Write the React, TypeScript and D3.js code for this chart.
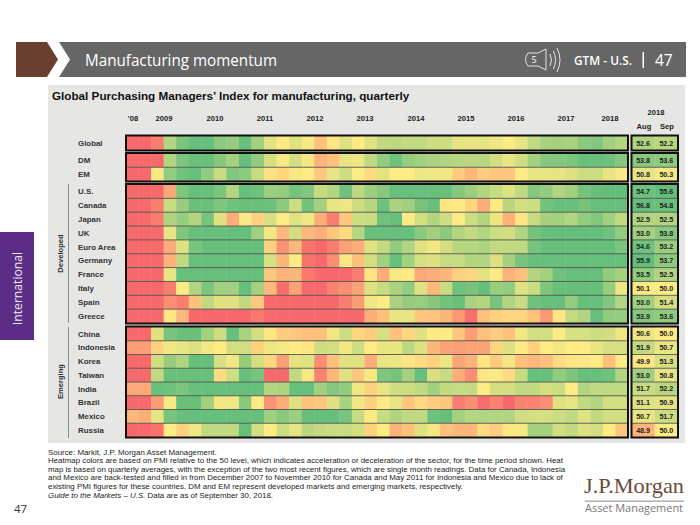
import React from "react";
import * as d3 from "d3";

const yearLabels = ["'08","2009","2010","2011","2012","2013","2014","2015","2016","2017","2018"];
const yearX = [133,164,215,265,315,365,416,466,516,566,610];

const Global = [47.5,47.5,47.9,52.5,54.2,54.9,54.9,53.7,53.4,54.8,53,50.9,50,51,50.2,49.2,49.9,51.1,50,51,52,52.1,51.9,52,51.6,51.6,50.8,50.7,50.8,50.5,50.1,50.8,52,52.8,52.9,52.8,53.8,54,53,52.4];
const DM = [47.5,47.5,47.5,52.5,54.2,54.8,54.8,53.9,52.9,54.9,53.5,51.3,50.2,51.4,50.3,48.9,49.2,50.8,50.5,52,53.5,54.6,53.4,53,52.7,52.5,52.3,52.2,52.3,51.4,50.7,51.5,53,53.9,54,54.2,54.8,54.8,54.6,53.9];
const EM = [47.5,47.5,50.3,53.5,54.6,54.9,53.5,51.8,54,53.6,51.8,49.8,49.6,50.3,50,49.3,50.8,51.6,50,49.7,50.9,50,50,50.6,50.5,50.4,49.4,49,49.4,49.3,49.3,50,50.7,50.8,50.8,51.1,51.6,51.6,50.7,50.2];
const US = [47.5,47.5,47.5,48.7,54.1,54.9,54.9,54.2,52.4,54.9,54.6,53.1,53.4,54.4,54,51.8,52.5,54.6,52.1,53.2,53.8,54.9,54.9,54.9,54.9,54.8,53.9,53.2,52.5,51.8,51.1,52,53.9,53.5,52.5,53,54.4,54.9,55,55];
const Canada = [47.5,47.5,47.9,51.8,53.3,54.8,54.8,54.1,54.6,54.8,54.8,54.7,53.7,51.6,54.5,52.9,50.7,50.5,51.5,52.3,54.6,52.7,53,54.4,54.9,49.9,50,49.6,48.8,50,52.2,51.4,51.6,54.5,54.9,54.9,54.4,54.9,54.9,54.9];
const Japan = [47.5,47.5,47.9,52.6,53.3,52.4,54.3,51,48.8,50.2,49.5,51.3,50,51,50.5,48.8,47.9,49.3,51.6,51.8,54.6,54.9,50,51.4,52.4,51.6,50,51.6,52.4,50.6,48.9,49.9,51.8,52.9,52.9,52.5,53.5,54,53,52];
const UK = [47.5,47.5,47.5,50.8,54.1,54.9,54.9,54.9,54.9,54.9,53,50.4,49,51.4,49,48.8,49.3,49.7,52.3,54.9,54.9,54.9,54.9,53.7,52.9,53.7,52.4,51.9,52.5,51.6,51.4,52.5,54.5,54.9,55,55,55,55,54.6,53.5];
const EuroArea = [47.5,47.5,47.5,48.8,51.1,54.3,54.9,54.9,54.9,54.9,54.9,49.5,48.3,49,47.7,47.4,47.9,48.6,48.8,51,51.9,53.5,52.5,51,50.4,51.4,52.3,52.3,52.6,51.9,52,52,54.4,54.9,54.9,54.9,54.9,54.9,54.9,54.2];
const Germany = [47.5,47.5,47.5,48.9,52,54.9,54.9,54.9,54.9,54.9,54.9,51.3,49,50,47.7,47.5,48.2,49.9,49.2,51.4,53,54.9,53,51.3,51.1,51.8,51.8,52.4,52.5,51.1,52.9,54.3,54.9,54.9,54.9,54.9,54.9,54.9,54.9,54.9];
const France = [47.5,47.5,47.5,50.7,54.9,54.9,54.9,54.9,54.9,54.9,54.9,49.3,48.9,49,47.8,47.4,47.4,47.4,47.9,49.9,48.8,50.3,50,48.7,48.8,49,49.5,49.6,50.9,50,48.9,49.2,52.4,53,54.6,54.9,54.9,54.9,53.5,52.9];
const Italy = [47.5,47.5,47.5,47.9,50,52.5,54.2,53,53,54.9,52.9,49,47.6,48.6,47.5,47.5,48,48.2,48.6,51,51.8,52.7,53.5,51,49,51.8,54.6,54.3,54.9,53.3,53.5,51,51.8,54.1,54.9,54.9,54.9,54.9,53.3,50.5];
const Spain = [47.5,47.5,47.5,48.2,47.9,49.2,52,51,51,52,49.3,47.5,47.5,47.5,47.5,47.5,47.5,47.9,48.5,50.4,50,52.7,53.4,53.3,53.9,54.5,54.8,52.7,52.4,54.3,52.5,51.7,54.6,54.9,54.9,53.5,54.9,54.9,54,52.5];
const Greece = [47.5,47.5,47.5,49.9,49,47.5,47.5,47.5,47.5,47.5,47.8,47.5,47.5,47.5,47.5,47.5,47.5,47.5,47.5,48.8,49.2,50.7,50.7,49.3,49.3,49,48.4,47.6,49.2,49.5,49.6,49.6,49.2,48.4,49.9,51.9,52.5,54.9,53.5,53.5];
const China = [47.5,47.5,51,54.3,54.8,54.8,52.9,51.6,54.9,52.7,51.4,49.9,49.4,49.3,49.2,49.2,50.4,51.6,49.6,49.4,51.3,49.2,49.6,51,50,50,49.3,48.5,49.2,49.4,49.2,50.4,51.4,51.4,50,51.3,51.3,51.6,51.4,50.6];
const Indonesia = [48.5,48.5,49.5,50.4,50.8,51.1,50.4,50,51.4,51.4,49.5,50.6,50.3,50,49.9,51.5,51.4,50.4,51.6,50,50.7,50.7,52.1,51.1,49,48.6,48.5,48.6,48.6,49.6,51.1,50,49.5,50,50.4,50,50,50.7,51.3,51.3];
const Korea = [47.5,47.5,51.6,53.3,52.6,54.9,54.9,51.3,50.4,53.4,51.4,49.6,48.5,50.9,51,48.2,49.2,51,51,48.8,50.7,50.6,49.9,49.7,49.5,50.6,48.7,48.9,49.9,49.4,50.4,49.2,49,49.2,49.7,49.9,50.2,50,49.2,50];
const Taiwan = [47.5,47.5,52,54.8,54.8,54.8,54.8,49.7,51.6,54.9,54.3,47.5,47.4,52,50.3,48,49,51,49.3,50.3,54.1,54.4,52.9,54.9,51.2,51.8,48.8,48.2,49.9,50.1,49.7,51.8,54.9,54.9,53.5,54.1,54.9,54.9,54.6,52.5];
const India = [48.7,48.7,54.9,54.6,54.2,54.9,54.9,54.9,54.9,54.9,54.9,52.4,52.6,54.9,54.9,53,53.9,53.5,50.5,49.5,50.7,51.5,51.6,52,53,52,51.8,51.9,50,51.4,51.4,52,52,51.4,51.6,50,52.5,52,52,52];
const Brazil = [47.5,47.5,48.5,50.3,54.8,54.8,53,50.5,50.5,53.8,50,48.3,48.8,51.1,49.2,49.3,51,52.7,50.4,49.5,50,50.7,49.3,49.7,49.4,49.3,47.9,48.2,47.6,48,47.5,48,48,48.2,51,50.8,52,52.4,51.4,51.4];
const Mexico = [49,48.8,50.8,54.3,54.9,54.9,54.9,54.9,54.9,54.9,54.9,53,53.8,53.1,54.9,54.9,54.9,54.3,51.8,50,51.8,52.6,52,52,54.6,54.9,52.9,52.3,52.5,52.5,52.4,51.5,51.3,51.3,51.6,52,51,52,51.4,51.4];
const Russia = [47.5,47.5,47.7,50,49.5,50.5,52,52,52,54.9,51.4,50,51.6,50.8,52.2,51.9,51.7,51.7,51.4,49.5,50,48.9,49.2,51,50.4,49.2,49,49,49.7,49.4,49.9,50.3,52.9,52.9,51.4,52,51.1,51.4,50,49.3];

const rowNames = ["Global","DM","EM","U.S.","Canada","Japan","UK","Euro Area","Germany","France","Italy","Spain","Greece","China","Indonesia","Korea","Taiwan","India","Brazil","Mexico","Russia"];
const rowValues = [Global,DM,EM,US,Canada,Japan,UK,EuroArea,Germany,France,Italy,Spain,Greece,China,Indonesia,Korea,Taiwan,India,Brazil,Mexico,Russia];
const aug = [52.6,53.8,50.8,54.7,56.8,52.5,53.0,54.6,55.9,53.5,50.1,53.0,53.9,50.6,51.9,49.9,53.0,51.7,51.1,50.7,48.9];
const sep = [52.2,53.6,50.3,55.6,54.8,52.5,53.8,53.2,53.7,52.5,50.0,51.4,53.6,50.0,50.7,51.3,50.8,52.2,50.9,51.7,50.0];

const footnotes = [
  "Source: Markit, J.P. Morgan Asset Management.",
  "Heatmap colors are based on PMI relative to the 50 level, which indicates acceleration or deceleration of the sector, for the time period shown. Heat",
  "map is based on quarterly averages, with the exception of the two most recent figures, which are single month readings. Data for Canada, Indonesia",
  "and Mexico are back-tested and filled in from December 2007 to November 2010 for Canada and May 2011 for Indonesia and Mexico due to lack of",
  "existing PMI figures for these countries. DM and EM represent developed markets and emerging markets, respectively.",
];

const groups = [
  { start: 0, n: 1, top: 136, bottom: 150 },
  { start: 1, n: 2, top: 153.5, bottom: 181 },
  { start: 3, n: 10, top: 184.5, bottom: 323 },
  { start: 13, n: 8, top: 327, bottom: 437 },
];

const color = d3.scaleLinear<string>().domain([47.5, 50, 55]).range(["#f8696b", "#ffeb84", "#63be7b"]).clamp(true);
const xScale = d3.scaleBand<number>().domain(d3.range(40)).range([126, 628]);
const tableX = d3.scaleBand<string>().domain(["Aug", "Sep"]).range([631.5, 678]);

const SANS = "'Liberation Sans', Arial, sans-serif";
const OPEN = "'Open Sans', sans-serif";

export default function App() {
  return (
    <svg width={700} height={525} style={{ position: "absolute", left: 0, top: 0 }} fontFamily={SANS}>
      <rect width={700} height={525} fill="#fff" />
      {/* header */}
      <polygon points="16,42 47,42 58,59.5 47,77 16,77" fill="#6a3f30" />
      <polygon points="59,42 686,42 686,77 59,77 70,59.5" fill="#666666" />
      <text x={85} y={65.5} fontFamily={OPEN} fontSize={17.2} fill="#fff" textLength={192} lengthAdjust="spacingAndGlyphs">Manufacturing momentum</text>
      <g fill="none" stroke="#f2f2f2" strokeWidth={0.9}>
        <path d="M528,53 L538,53 L546,49 L546,70 L538,66 L528,66 Q523,59.5 528,53 Z" />
        <path d="M550,54 Q553,59.5 550,66" />
        <path d="M553.5,51 Q557.5,59.5 553.5,69" />
        <path d="M557,48 Q563,59.5 557,72" />
      </g>
      <text x={534} y={63} fontSize={9} fill="#fff" textAnchor="middle" fontFamily={OPEN}>5</text>
      <text x={574} y={65} fontFamily={OPEN} fontSize={12.5} fontWeight={600} fill="#fff" textLength={58} lengthAdjust="spacingAndGlyphs">GTM - U.S.</text>
      <rect x={642.5} y={52} width={1.5} height={16} fill="#fff" />
      <text x={655} y={66} fontFamily={OPEN} fontSize={15.5} fill="#fff">47</text>

      {/* side tab */}
      <rect x={0} y={232} width={34} height={108} fill="#5c2d87" />
      <text transform="translate(21.5,288.5) rotate(-90)" textAnchor="middle" fontFamily={OPEN} fontSize={12.2} fill="#ece6f2">International</text>

      {/* panel */}
      <rect x={48} y={85} width={637} height={358} fill="#e6e6e5" />
      <text x={52} y={100} fontSize={11.7} fontWeight="bold" fill="#111">Global Purchasing Managers’ Index for manufacturing, quarterly</text>

      {yearLabels.map((l, i) => (
        <text key={l} x={yearX[i]} y={121} fontSize={7.6} fontWeight="bold" fill="#222" textAnchor="middle">{l}</text>
      ))}
      <text x={656} y={115} fontSize={7.6} fontWeight="bold" fill="#222" textAnchor="middle">2018</text>
      <text x={644} y={129} fontSize={7.6} fontWeight="bold" fill="#222" textAnchor="middle">Aug</text>
      <text x={667} y={129} fontSize={7.6} fontWeight="bold" fill="#222" textAnchor="middle">Sep</text>

      <line x1={68.5} x2={68.5} y1={184} y2={323} stroke="#777" strokeWidth={0.8} />
      <line x1={68.5} x2={68.5} y1={327} y2={438} stroke="#777" strokeWidth={0.8} />
      <text transform="translate(63,253.5) rotate(-90)" textAnchor="middle" fontSize={7.6} fontWeight="bold" fill="#333">Developed</text>
      <text transform="translate(63,381.5) rotate(-90)" textAnchor="middle" fontSize={7.6} fontWeight="bold" fill="#333">Emerging</text>

      {groups.map((g) => {
        const y = d3.scaleBand<number>().domain(d3.range(g.start, g.start + g.n)).range([g.top, g.bottom]);
        return (
          <g key={g.start}>
            {y.domain().map((r) => (
              <g key={r}>
                <text x={78} y={y(r)! + y.bandwidth() / 2 + 2.8} fontSize={7.9} fontWeight="bold" fill="#333">{rowNames[r]}</text>
                {rowValues[r].map((v, c) => (
                  <rect key={c} x={xScale(c)} y={y(r)} width={xScale.bandwidth() + 0.3} height={y.bandwidth() + 0.3} fill={color(v)} />
                ))}
                {[aug[r], sep[r]].map((v, i) => {
                  const k = i === 0 ? "Aug" : "Sep";
                  return (
                    <g key={k}>
                      <rect x={tableX(k)} y={y(r)} width={tableX.bandwidth()} height={y.bandwidth() + 0.3} fill={color(v)} />
                      <text x={tableX(k)! + tableX.bandwidth() / 2} y={y(r)! + y.bandwidth() / 2 + 2.6} fontSize={7.2} fontWeight="bold" fill="#222" textAnchor="middle">{v.toFixed(1)}</text>
                    </g>
                  );
                })}
                {r > g.start && (
                  <>
                    <line x1={126} x2={628} y1={y(r)} y2={y(r)} stroke="#555" strokeWidth={0.9} />
                    <line x1={631.5} x2={678} y1={y(r)} y2={y(r)} stroke="#555" strokeWidth={0.9} />
                  </>
                )}
              </g>
            ))}
            <rect x={126} y={g.top - 0.5} width={502} height={g.bottom - g.top + 1} fill="none" stroke="#111" strokeWidth={2} />
            <rect x={631.5} y={g.top - 0.5} width={46.5} height={g.bottom - g.top + 1} fill="none" stroke="#111" strokeWidth={2} />
          </g>
        );
      })}

      {/* footnotes */}
      {footnotes.map((t, i) => (
        <text key={i} x={48} y={454.5 + i * 8.6} fontSize={7.9} fill="#222">{t}</text>
      ))}
      <text x={48} y={497.5} fontSize={7.9} fill="#222"><tspan fontStyle="italic">Guide to the Markets – U.S.</tspan> Data are as of September 30, 2018.</text>

      <text x={14} y={512.5} fontFamily={OPEN} fontSize={11.5} fill="#333">47</text>

      {/* logo */}
      <text x={584} y={493} fontFamily="'Liberation Serif', serif" fontSize={21.5} fill="#6b4a3a" textLength={100} lengthAdjust="spacingAndGlyphs">J.P.Morgan</text>
      <rect x={585} y={500.5} width={99} height={1.3} fill="#a5a5a5" />
      <text x={585} y={512} fontFamily={OPEN} fontSize={11} fill="#777" textLength={98} lengthAdjust="spacingAndGlyphs">Asset Management</text>
    </svg>
  );
}
